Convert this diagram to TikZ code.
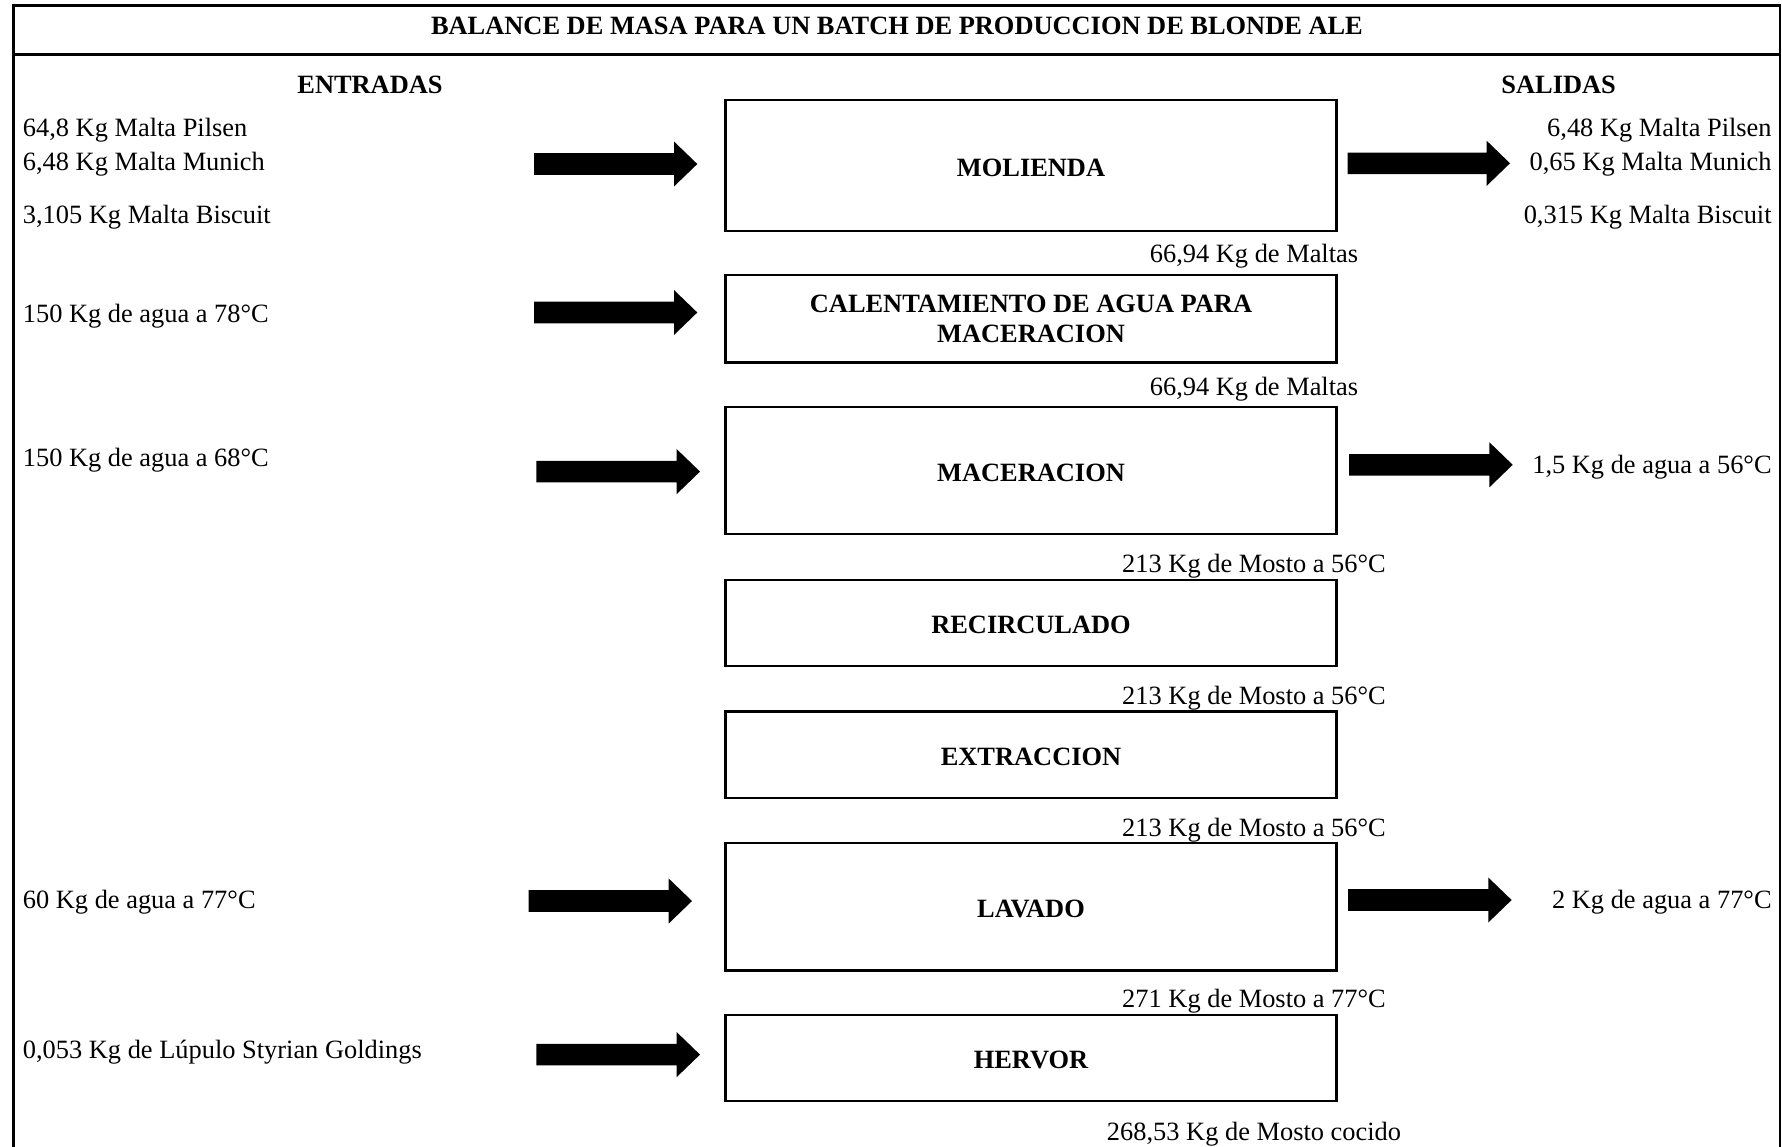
\documentclass[tikz,border=0pt]{standalone}
\usepackage{fontspec}
\setmainfont{Liberation Serif}
\usetikzlibrary{calc}
% thick block arrow from a start coordinate to a tip coordinate
\newcommand\blockarr[2]{%
  \fill ($(#1)+(0,-10.8)$) -- ($(#2)+(-23.3,-10.8)$) -- ($(#2)+(-23.3,-22.5)$)
    -- (#2) -- ($(#2)+(-23.3,22.5)$) -- ($(#2)+(-23.3,10.8)$) -- ($(#1)+(0,10.8)$) -- cycle;}
\begin{document}
\begin{tikzpicture}[x=1pt,y=-1pt,
  every node/.style={inner sep=0pt, font=\fontsize{26.4}{30.7}\selectfont},
  txt/.style={text height=17.4pt, text depth=0pt},
  inlabel/.style={txt, anchor=west},
  outlabel/.style={txt, anchor=east},
  flowlabel/.style={txt},
  heading/.style={txt, font=\fontsize{26.4}{30.7}\selectfont\bfseries},
  stage/.style={draw, line width=2.8pt, minimum width=610.5pt, align=center,
    font=\fontsize{26.4}{30.7}\selectfont\bfseries},
  onestage/.style={stage, text height=21.8pt, text depth=0pt},
  outerframe/.style={line width=2.8pt}]
\useasboundingbox (0,0) rectangle (1782,1146);

% outer frame and title band
\draw[outerframe] (13.6,1152) -- (13.6,5.7) -- (1780,5.7) -- (1780,1152);
\draw[outerframe] (13.6,54.5) -- (1780,54.5);
\node[heading] (title) at (897,26.2) {BALANCE DE MASA PARA UN BATCH DE PRODUCCION DE BLONDE ALE};
\node[heading] (entradas) at (370,85.2) {ENTRADAS};
\node[heading] (salidas) at (1558.7,85.2) {SALIDAS};

% process stages
\node[onestage, minimum height=131pt]  (mol) at (1031,165.5) {MOLIENDA};
\node[stage, minimum height=87.5pt] (cal) at (1031,318.8) {CALENTAMIENTO DE AGUA PARA\\MACERACION};
\node[onestage, minimum height=127pt]  (mac) at (1031,470.5) {MACERACION};
\node[onestage, minimum height=86pt]   (rec) at (1031,623) {RECIRCULADO};
\node[onestage, minimum height=86.5pt] (ext) at (1031,754.8) {EXTRACCION};
\node[onestage, minimum height=127.6pt] (lav) at (1031,906.8) {LAVADO};
\node[onestage, minimum height=86pt]   (her) at (1031,1058) {HERVOR};

% streams between stages
\node[flowlabel] (f1) at (1254,253.4) {66,94 Kg de Maltas};
\node[flowlabel] (f2) at (1254,386.4) {66,94 Kg de Maltas};
\node[flowlabel] (f3) at (1254,563.7) {213 Kg de Mosto a 56°C};
\node[flowlabel] (f4) at (1254,695.5) {213 Kg de Mosto a 56°C};
\node[flowlabel] (f5) at (1254,827.4) {213 Kg de Mosto a 56°C};
\node[flowlabel] (f6) at (1254,999) {271 Kg de Mosto a 77°C};
\node[flowlabel] (f7) at (1254,1132) {268,53 Kg de Mosto cocido};

% inputs
\node[inlabel] (in1a) at (22.7,127.3) {64,8 Kg Malta Pilsen};
\node[inlabel] (in1b) at (22.7,161.4) {6,48 Kg Malta Munich};
\node[inlabel] (in1c) at (22.7,214.8) {3,105 Kg Malta Biscuit};
\node[inlabel] (in2) at (22.7,313.7) {150 Kg de agua a 78°C};
\node[inlabel] (in3) at (22.7,458) {150 Kg de agua a 68°C};
\node[inlabel] (in6) at (22.7,900) {60 Kg de agua a 77°C};
\node[inlabel] (in7) at (22.7,1050) {0,053 Kg de Lúpulo Styrian Goldings};

% outputs
\node[outlabel] (out1a) at (1771.8,127.3) {6,48 Kg Malta Pilsen};
\node[outlabel] (out1b) at (1771.8,161.4) {0,65 Kg Malta Munich};
\node[outlabel] (out1c) at (1771.8,214.8) {0,315 Kg Malta Biscuit};
\node[outlabel] (out3) at (1771.8,464.8) {1,5 Kg de agua a 56°C};
\node[outlabel] (out6) at (1771.8,900) {2 Kg de agua a 77°C};

% arrow end points
\coordinate (ia1) at (534,164);    \coordinate (ia1t) at (697.3,164);
\coordinate (ia2) at (534,312.5);  \coordinate (ia2t) at (697.3,312.5);
\coordinate (ia3) at (536.4,471.6); \coordinate (ia3t) at (700,471.6);
\coordinate (ia6) at (528.5,901);  \coordinate (ia6t) at (692,901);
\coordinate (ia7) at (536.4,1054.6); \coordinate (ia7t) at (700,1054.6);
\coordinate (oa1) at (1347.7,163.3); \coordinate (oa1t) at (1510,163.3);
\coordinate (oa3) at (1349,464.8); \coordinate (oa3t) at (1512.7,464.8);
\coordinate (oa6) at (1348,900);   \coordinate (oa6t) at (1511.6,900);

\blockarr{ia1}{ia1t}
\blockarr{ia2}{ia2t}
\blockarr{ia3}{ia3t}
\blockarr{ia6}{ia6t}
\blockarr{ia7}{ia7t}
\blockarr{oa1}{oa1t}
\blockarr{oa3}{oa3t}
\blockarr{oa6}{oa6t}
\end{tikzpicture}
\end{document}
